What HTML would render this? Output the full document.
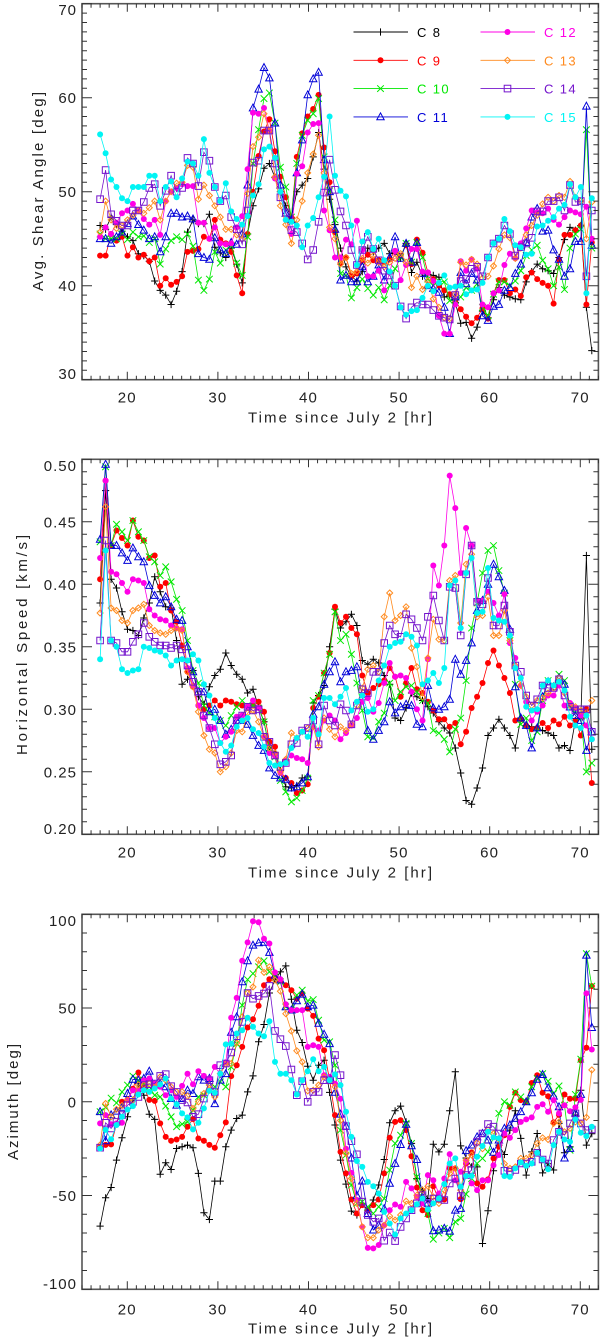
<!DOCTYPE html>
<html lang="en">
<head>
<meta charset="utf-8">
<title>Time series of shear angle, speed and azimuth</title>
<style>
html,body{margin:0;padding:0;background:#fff;width:600px;height:1340px;overflow:hidden}
svg{display:block}
text{font-family:"Liberation Sans",sans-serif;fill:#222}
</style>
</head>
<body>
<svg id="chart" xmlns="http://www.w3.org/2000/svg" width="600" height="1340" viewBox="0 0 600 1340"></svg>
<script>
const times=[17.00,17.60,18.21,18.81,19.41,20.02,20.62,21.22,21.82,22.43,23.03,23.63,24.24,24.84,25.44,26.05,26.65,27.25,27.85,28.46,29.06,29.66,30.27,30.87,31.47,32.08,32.68,33.28,33.88,34.49,35.09,35.69,36.30,36.90,37.50,38.11,38.71,39.31,39.91,40.52,41.12,41.72,42.33,42.93,43.53,44.14,44.74,45.34,45.94,46.55,47.15,47.75,48.36,48.96,49.56,50.17,50.77,51.37,51.97,52.58,53.18,53.78,54.39,54.99,55.59,56.20,56.80,57.40,58.00,58.61,59.21,59.81,60.42,61.02,61.62,62.23,62.83,63.43,64.03,64.64,65.24,65.84,66.45,67.05,67.65,68.26,68.86,69.46,70.06,70.67,71.27];

const shearC8=[46.4,46.0,47.3,46.5,45.8,45.2,44.8,43.4,43.2,42.6,
40.5,39.5,39.0,38.0,39.4,41.5,45.7,47.0,46.6,46.6,
47.6,44.1,43.5,43.0,44.0,42.3,40.3,45.5,48.5,50.3,
52.5,53.0,51.5,50.0,48.5,47.2,50.0,50.7,51.4,53.7,
56.3,52.4,49.2,46.5,44.0,42.0,41.0,40.5,41.5,44.0,
43.6,44.0,44.5,43.4,43.5,42.9,44.5,41.4,42.5,41.0,
41.2,41.1,40.9,38.8,39.0,38.2,36.0,36.1,34.4,35.6,
37.3,36.6,38.5,39.8,39.0,38.8,38.6,38.5,40.4,41.5,
42.3,41.8,41.6,41.3,43.0,44.9,46.2,45.9,46.4,37.7,
33.1];
const shearC9=[43.2,43.2,45.5,44.8,45.2,43.2,44.1,43.0,43.3,42.6,
43.0,40.0,40.8,40.1,40.4,41.0,43.6,43.7,43.9,45.2,
45.0,47.0,44.9,44.5,43.6,41.1,39.2,45.5,50.0,53.8,
56.4,57.7,54.3,51.6,49.4,47.3,53.7,56.2,58.0,58.8,
60.3,54.7,51.0,45.7,42.4,43.0,41.0,41.3,42.7,43.3,
42.7,42.7,42.5,42.8,43.7,43.2,44.3,42.3,44.9,43.5,
41.4,40.7,40.0,39.5,39.1,38.4,37.5,36.7,36.0,36.6,
37.6,36.5,39.2,40.6,40.6,39.2,39.6,38.9,40.9,41.4,
40.7,40.3,40.0,38.1,42.8,45.4,45.4,45.9,46.4,38.0,
44.6];
const shearC10=[45.5,45.0,45.0,45.0,45.5,44.9,45.7,45.2,45.3,44.6,
45.0,42.3,43.9,44.8,45.2,44.9,45.5,44.2,40.6,39.5,
40.7,43.6,42.4,43.8,44.3,42.4,41.1,45.2,53.0,56.6,
59.9,60.5,57.3,52.6,50.5,47.3,53.0,56.0,57.6,58.3,
59.9,53.7,50.1,47.0,41.3,41.1,38.7,39.8,40.7,39.7,
39.0,39.8,38.5,40.0,41.8,43.0,44.5,42.5,44.6,43.0,
40.7,40.0,40.5,40.4,38.4,38.4,38.8,39.8,39.5,40.2,
37.7,36.8,39.1,40.4,40.4,40.0,40.5,41.6,43.2,43.8,
44.3,42.7,41.8,40.0,42.0,39.6,44.0,45.5,46.0,56.6,
44.0];
const shearC11=[45.0,45.0,44.5,45.2,45.7,46.6,47.4,46.5,45.9,45.0,
45.2,43.6,45.2,47.7,47.7,47.3,47.4,47.1,43.4,43.0,
42.8,45.1,43.8,43.4,44.6,44.4,45.5,50.7,58.9,60.9,
63.2,62.1,57.3,50.7,47.7,47.0,52.0,55.5,60.3,62.0,
62.7,53.4,50.0,46.0,40.6,41.1,40.4,40.4,42.0,40.4,
41.0,42.2,40.6,43.0,45.2,42.9,44.5,42.5,44.6,41.3,
40.0,39.7,39.3,37.7,34.9,38.8,41.4,40.2,41.3,40.6,
36.8,36.3,37.8,38.0,39.5,39.8,41.3,42.3,44.6,47.3,
48.2,45.8,45.9,43.8,42.8,41.0,41.8,44.7,44.7,59.1,
44.3];
const shearC12=[45.2,46.2,45.5,46.7,47.7,48.0,48.7,48.0,47.1,46.5,
47.0,45.4,49.0,50.0,50.4,50.8,50.6,50.6,46.7,46.7,
45.0,46.2,44.5,44.4,44.5,46.2,47.4,52.4,58.4,58.3,
58.9,56.5,51.4,50.0,47.0,45.5,51.9,52.7,56.3,57.2,
57.3,48.0,45.9,43.0,43.0,44.9,44.4,46.9,43.8,41.0,
41.0,41.6,39.5,41.4,43.7,40.6,42.2,43.9,43.9,41.5,
41.4,40.5,36.8,34.9,34.9,38.0,42.6,41.6,42.8,41.8,
38.0,37.7,39.2,39.5,42.2,43.4,42.9,44.5,46.1,48.0,
47.8,47.7,48.2,47.0,46.5,47.3,48.0,47.8,47.6,48.4,
45.0];
const shearC13=[45.7,49.0,47.0,46.1,46.4,47.0,47.5,48.0,47.7,48.3,
49.0,47.0,49.0,50.0,50.9,51.0,52.8,52.6,49.2,50.7,
49.6,48.5,47.3,46.0,46.0,45.4,45.0,49.8,54.8,55.8,
58.3,56.5,51.6,48.5,46.5,44.5,47.0,49.0,52.0,54.0,
56.0,52.0,46.2,45.0,42.3,43.0,41.3,41.5,42.9,42.4,
43.2,42.5,42.0,42.5,42.9,43.4,42.5,39.8,41.0,39.6,
40.5,38.6,37.7,36.6,36.5,39.1,42.5,42.2,42.8,42.3,
40.8,41.0,42.1,43.9,45.4,45.1,42.9,44.0,45.4,46.4,
47.5,48.7,49.4,49.0,49.6,49.4,51.1,49.4,49.0,45.0,
48.9];
const shearC14=[49.2,52.3,47.6,46.9,46.4,46.4,48.0,48.0,48.9,50.4,
50.8,48.5,50.1,51.7,50.0,50.4,53.6,53.0,50.6,54.2,
53.3,50.5,49.0,49.6,47.3,46.0,44.4,48.0,53.1,53.3,
56.5,56.5,53.0,49.4,47.8,45.9,45.7,44.5,42.8,43.8,
46.8,49.9,53.4,50.2,47.9,46.4,43.8,42.2,43.8,45.2,
43.9,42.7,41.6,41.1,40.0,37.8,36.5,37.7,38.2,38.0,
38.0,37.4,36.8,36.6,36.4,39.0,40.5,40.7,41.8,42.0,
41.0,43.0,44.5,45.0,46.4,45.5,43.2,44.1,44.5,45.1,
47.9,47.9,49.0,49.0,49.4,48.0,50.7,48.9,49.0,41.0,
48.0];
const shearC15=[56.1,54.1,51.3,50.5,49.3,49.0,50.5,50.5,50.5,51.7,
51.7,49.0,50.5,51.1,49.4,51.4,53.2,53.0,51.7,55.6,
52.0,50.5,49.0,50.9,47.9,47.1,46.5,47.4,49.6,50.8,
54.5,54.8,53.6,50.0,47.0,46.8,46.4,44.1,46.4,47.2,
49.4,51.6,58.0,51.7,50.1,49.5,46.4,42.2,44.7,45.7,
43.9,45.0,42.7,41.5,40.0,37.7,36.9,37.3,37.4,38.7,
40.0,39.4,40.3,41.1,39.8,39.9,40.0,39.1,39.5,39.6,
40.3,43.0,44.5,45.0,47.1,45.8,44.3,44.1,43.3,43.4,
46.3,46.4,46.9,47.3,48.2,48.6,50.8,49.4,50.5,39.2,
49.3];

const speedC8=[.385,.475,.404,.397,.378,.364,.363,.359,.373,.385,
.406,.394,.382,.381,.355,.320,.324,.331,.310,.304,
.318,.327,.332,.345,.335,.328,.324,.313,.316,.302,
.290,.269,.265,.251,.238,.237,.239,.245,.246,.305,
.311,.319,.350,.380,.365,.370,.376,.367,.339,.336,
.340,.337,.327,.320,.293,.291,.301,.313,.310,.307,
.302,.297,.290,.285,.281,.269,.249,.227,.224,.237,
.253,.279,.285,.292,.285,.279,.269,.293,.287,.286,
.285,.283,.281,.279,.269,.271,.267,.291,.293,.423,
.268];
const speedC9=[.404,.483,.431,.443,.437,.431,.451,.438,.435,.421,
.423,.398,.401,.379,.370,.351,.330,.318,.303,.300,
.303,.307,.303,.307,.306,.304,.303,.302,.303,.306,
.298,.274,.270,.250,.245,.241,.233,.235,.240,.301,
.310,.329,.345,.382,.369,.374,.365,.360,.327,.313,
.317,.320,.323,.333,.326,.310,.321,.333,.316,.313,
.306,.299,.292,.292,.286,.289,.272,.282,.301,.310,
.321,.337,.347,.335,.325,.313,.291,.292,.287,.284,
.285,.289,.285,.291,.288,.294,.287,.291,.279,.300,
.241];
const speedC10=[.434,.494,.431,.448,.442,.435,.451,.442,.435,.422,
.418,.407,.414,.402,.388,.379,.355,.331,.321,.303,
.297,.294,.291,.287,.295,.302,.307,.301,.303,.301,
.290,.269,.262,.243,.234,.226,.229,.235,.245,.307,
.311,.329,.344,.378,.355,.360,.344,.321,.299,.278,
.277,.290,.297,.321,.307,.314,.318,.319,.314,.307,
.305,.283,.281,.276,.266,.284,.293,.323,.365,.385,
.409,.427,.431,.411,.393,.355,.320,.288,.293,.275,
.282,.307,.323,.319,.328,.323,.303,.297,.294,.250,
.257];
const speedC11=[.436,.496,.431,.431,.425,.419,.429,.422,.418,.399,
.391,.385,.390,.382,.372,.371,.350,.330,.314,.314,
.298,.300,.291,.280,.284,.291,.291,.288,.279,.271,
.267,.253,.247,.245,.244,.237,.238,.241,.246,.296,
.302,.320,.330,.338,.322,.330,.331,.334,.310,.283,
.276,.283,.290,.306,.297,.302,.304,.303,.288,.286,
.319,.301,.300,.302,.308,.340,.328,.339,.353,.379,
.387,.400,.416,.406,.395,.364,.318,.293,.287,.269,
.285,.310,.322,.318,.325,.320,.302,.295,.291,.267,
.282];
const speedC12=[.421,.483,.410,.408,.401,.394,.404,.403,.401,.380,
.375,.372,.371,.367,.365,.364,.333,.319,.303,.293,
.285,.285,.273,.278,.282,.294,.295,.302,.307,.301,
.278,.265,.263,.249,.259,.263,.261,.260,.257,.286,
.283,.291,.295,.291,.276,.281,.287,.293,.306,.309,
.298,.305,.321,.337,.326,.327,.325,.314,.300,.291,
.340,.415,.399,.431,.487,.461,.409,.445,.431,.387,
.387,.394,.385,.375,.392,.353,.341,.319,.306,.291,
.298,.303,.311,.311,.319,.303,.305,.301,.295,.287,
.276];
const speedC13=[.377,.462,.381,.379,.371,.369,.379,.381,.384,.367,
.363,.361,.360,.363,.365,.363,.330,.318,.298,.279,
.268,.265,.250,.254,.265,.283,.282,.297,.299,.290,
.278,.269,.265,.250,.260,.281,.277,.282,.285,.286,
.270,.293,.284,.278,.286,.283,.288,.303,.317,.332,
.335,.330,.374,.393,.371,.375,.382,.349,.334,.310,
.341,.372,.356,.355,.403,.407,.369,.416,.424,.374,
.375,.390,.359,.359,.379,.355,.335,.319,.310,.303,
.307,.309,.313,.317,.325,.313,.303,.302,.299,.297,
.307];
const speedC14=[.355,.435,.355,.353,.346,.346,.354,.360,.369,.358,
.354,.351,.351,.349,.351,.348,.335,.322,.314,.295,
.285,.272,.256,.258,.263,.291,.295,.302,.299,.300,
.278,.274,.263,.254,.257,.272,.273,.283,.285,.291,
.272,.303,.291,.287,.304,.299,.288,.303,.316,.313,
.330,.330,.353,.367,.360,.358,.376,.372,.365,.355,
.374,.391,.371,.355,.398,.397,.359,.408,.431,.386,
.384,.405,.367,.367,.383,.362,.335,.330,.311,.303,
.308,.319,.317,.317,.324,.311,.302,.299,.300,.300,
.282];
const speedC15=[.340,.427,.355,.350,.332,.329,.331,.332,.350,.349,
.347,.346,.343,.335,.339,.340,.339,.344,.339,.320,
.311,.293,.273,.266,.271,.286,.291,.293,.284,.281,
.270,.257,.255,.256,.257,.269,.277,.282,.278,.293,
.280,.309,.309,.304,.310,.317,.299,.306,.311,.298,
.300,.323,.335,.350,.353,.354,.360,.358,.351,.320,
.323,.329,.321,.333,.399,.403,.365,.409,.421,.377,
.378,.413,.373,.371,.370,.359,.333,.325,.302,.299,
.300,.319,.323,.319,.322,.315,.294,.287,.285,.295,
.276];

const azimuthC8=[-66.3,-51.2,-45.7,-31.1,-19.2,-8,.9,9.7,3.5,-6.6,
-9.4,-38.6,-32.5,-36.1,-24.9,-24,-23.1,-24.5,-38.2,-59.2,
-62.8,-42.3,-42.3,-24,-15.1,-8.9,-7.1,5.3,13.8,32,
41.2,58,65,69.3,72.5,54.7,38.2,31.6,19,11.5,
19.5,22.2,5,-12.4,-31.1,-43.9,-58.3,-60.4,-54.2,-57.8,
-52.4,-44.4,-30.8,-11.2,-4.8,-2.3,-10.7,-22.2,-40.9,-47.1,
-51.6,-22.6,-26.7,-22.6,-4.8,16,-23.5,-30,-34.7,-34.7,
-75.6,-58.1,-36.8,-23.1,-28.1,-15.1,-4.8,-19.5,-39.1,-26.7,
-16.9,-37.9,-33,-36.4,-11.5,-27.2,-24,-7,6.2,-23.1,
-17];
const azimuthC9=[-24,-23,-22.7,-12,0,1,7,15.6,8,1,
.5,-11.5,-18.7,-20.8,-20.1,-18.7,-13.3,-9.2,-19.6,-20.8,
-23,-24.5,-17.8,-11,13.7,19.5,29.3,39.6,44,51.2,
62.2,65.4,67.5,64.9,62.2,59.5,55,57.8,49.7,45.8,
33.7,27.5,11.5,-7.1,-26.7,-38.2,-52.1,-59.6,-55.1,-57.8,
-55.1,-52.1,-38.2,-19.2,-10.7,-9.8,-15.1,-29,-45.7,-57.8,
-60.4,-45,-52.4,-52.1,-35.5,-35.5,-51.9,-32.9,-27,-43.5,
-45.3,-41.4,-30.2,-24,-17.8,-2.7,4.8,.9,0,10,
14.2,4.8,3,-11,-7,3.9,1.6,1.7,22.2,28.8,
61.7];
const azimuthC10=[-5.3,-3,2,-.6,5.3,8.9,13.7,11.5,9.7,8,
3.5,2.6,-2.3,-8,-13.3,-11.9,-10.7,-4.4,2.6,3.5,
10.6,8,10.6,8,18.6,31,51.5,65.2,68.4,72,
75.2,69.3,66.6,64,50.6,48.9,56.9,59.5,53.8,54.5,
43.5,32.9,32,19.5,-15.1,-28.4,-44.4,-54.2,-53.3,-56,
-59.6,-56,-51.6,-36.4,-22.2,-17.8,-11.5,-22.2,-40,-50.7,
-59.6,-73.3,-70,-67.5,-72.5,-64,-62.2,-49.2,-40.9,-32.9,
-30.2,-26.7,-18.7,-6.2,0,-1.8,5.3,2.6,0,8,
12.4,15,11,4.4,8.5,-1.8,-25.8,3.9,22.7,79,
61.7];
const azimuthC11=[-5.3,-20.8,-7,-5,-3,4.4,12,11.5,12.4,16.3,
8.9,9.7,8,1.7,-1.8,1.7,6.2,4.4,13.3,11.5,
12.4,-1,11.5,15,37,45.3,64,75.2,83.5,84.8,
85,79.6,67.5,64.9,50.6,48.9,53.8,57.4,50.6,51.5,
41.8,36,31,5,-6.6,-13,-30,-50,-42.3,-59.6,
-68.4,-65.8,-57,-43.5,-32.9,-22.8,-12,-23.5,-30.8,-50.7,
-54.2,-68.8,-68.4,-67.5,-69,-57.8,-56.9,-26.1,-23.1,-18.7,
-16.9,-20.4,-27,-20.4,-14.2,-12.4,-8.9,-5.3,0,4.8,
12,14.5,7.4,3,-2.7,-30,-24.9,-6,3.9,78.2,
39.6];
const azimuthC12=[-11.5,-7.1,-12,-11.5,-11.2,.8,6.2,6.2,11.5,12.4,
9.7,8,3.5,6.2,2.6,8.5,15,9.4,16.3,13.8,
12.4,18.6,15,21,44.8,55.4,75.2,85,96.3,95.8,
87,84.4,69,65.4,52,48.9,48.9,48.9,29.3,30.2,
29.3,14.2,13.3,9.7,1.6,-25,-37.9,-52.4,-66.7,-77.9,
-78.2,-76.4,-65.8,-57.8,-54.8,-56,-42.7,-46.2,-50.7,-54.2,
-39.1,-41.8,-48.9,-40.9,-27.9,-41.8,-37.3,-32,-43.5,-47.1,
-41.8,-41.8,-33.8,-28.4,-16.9,-19.2,-15.1,-10.7,-9.4,-8.3,
-2.7,-1.3,-5.3,.9,-6.2,-1.8,-5,-3,1,57.8,
27.9];
const azimuthC13=[-23,-.9,-8,-4,-2,1,.9,9,9,9.7,
8,13.3,11.5,8,5.3,5.3,3,-3.6,0,4.4,
8.9,2.6,15,20,20.4,31.4,45.3,58,61.3,75.5,
69,72,64.9,59,47,37.7,27.2,21.3,5.8,6.2,
8.9,13.3,11.5,8,-10,-27.5,-40.9,-54.2,-66.7,-72.5,
-72.5,-68.4,-65.8,-61,-63.1,-60.4,-53,-54.2,-49.8,-47.1,
-45,-50.7,-54.2,-47.1,-38.2,-35.5,-47.1,-31.1,-28.4,-22,
-25,-15,-17,-20,-33,-35.5,-34.7,-30.2,-30.2,-28.4,
-22.2,-19.2,-20.1,-11.5,-10.7,-16,-14.2,-10.7,-11.5,-8.3,
17];
const azimuthC14=[-24.5,-11.2,-14.2,-10.7,-7.1,-1.8,0,2.6,8.9,9.4,
9.7,13.8,14.7,8.3,5.3,.9,-.4,-8,-6.6,1.7,
11.5,5.3,19.5,20.4,26.3,35,42.6,58,55,56.5,
57.7,61.8,37.8,33.4,29.7,17.2,3.5,11,0,5.3,
5.3,11.5,11.5,24.9,14.2,-13,-21,-28,-53.3,-60.4,
-64,-62.2,-74.1,-69.7,-74.3,-66.7,-62.2,-57.8,-54.2,-49.8,
-54.2,-51.6,-51.6,-52.4,-43.5,-40.9,-50.3,-39.1,-36.4,-21.3,
-16.9,-11.9,-13.3,-16.9,-36.8,-37.3,-36.4,-32.9,-32.9,-32,
-27.2,-30.8,-32.9,-20.4,-16,-17.8,-11.5,-6.2,-11.5,-15.1,
-14.8];
const azimuthC15=[-24.9,-15,-20,-12.4,-8,-4.1,-2.3,3.9,6.2,5.3,
7.1,9.2,12.4,1.7,-1.3,-6.2,-8.3,-14.7,-11.2,-3.5,
5.8,4.8,15,30.6,31,36.4,38.2,44.8,40,36.4,
35,43,21.3,15,15,11.5,3.9,11.5,16.3,22.7,
16.3,18.6,11.5,14.6,8.9,-5.3,-18.7,-31.6,-34.7,-42.7,
-45,-48.9,-58.7,-64.9,-70.8,-62.2,-59.6,-57.8,-54.6,-51.6,
-57.4,-54.2,-51.6,-43.9,-32.9,-30.2,-45.3,-39.6,-39.6,-29.3,
-23.6,-16,-19,-19.5,-39.6,-40,-35.5,-32.3,-34.1,-32.9,
-27.2,-30.8,-36,-23.1,-16,-20.1,-21.3,-9.4,-16.5,-18.3,
-13.3];

const seriesNames=['C 8','C 9','C 10','C 11','C 12','C 13','C 14','C 15'];
const seriesColors=['#000000','#ff0000','#00e800','#0000d8','#ff00e6','#ff8a1e','#7414cc','#00f4f4'];
const seriesSymbols=['plus','circle','cross','triangle','circle','diamond','square','circle'];
const xTicks=[20,30,40,50,60,70];
const shearTicks=[30,40,50,60,70];
const speedTicks=[0.20,0.25,0.30,0.35,0.40,0.45,0.50];
const azimuthTicks=[-100,-50,0,50,100];
const shearSeries=[shearC8,shearC9,shearC10,shearC11,shearC12,shearC13,shearC14,shearC15];
const speedSeries=[speedC8,speedC9,speedC10,speedC11,speedC12,speedC13,speedC14,speedC15];
const azimuthSeries=[azimuthC8,azimuthC9,azimuthC10,azimuthC11,azimuthC12,azimuthC13,azimuthC14,azimuthC15];

const svg=document.getElementById('chart');
const NS='http://www.w3.org/2000/svg';
const LEFT=82,RIGHT=598.4,XMIN=15,XMAX=72;
const FRAME='#555';

function make(tag,attrs,parent){
  const e=document.createElementNS(NS,tag);
  for(const k in attrs){e.setAttribute(k,attrs[k]);}
  parent.appendChild(e);
  return e;
}
function xPos(t){return LEFT+(t-XMIN)*(RIGHT-LEFT)/(XMAX-XMIN);}
function yScale(p){return function(v){return p.bottom-(v-p.min)*(p.bottom-p.top)/(p.max-p.min);};}

function symbolPath(kind,x,y){
  const f=function(n){return n.toFixed(1);};
  if(kind==='plus'){return 'M'+f(x-3.6)+' '+f(y)+'H'+f(x+3.6)+'M'+f(x)+' '+f(y-3.6)+'V'+f(y+3.6);}
  if(kind==='cross'){return 'M'+f(x-3.3)+' '+f(y-3.3)+'L'+f(x+3.3)+' '+f(y+3.3)+'M'+f(x-3.3)+' '+f(y+3.3)+'L'+f(x+3.3)+' '+f(y-3.3);}
  if(kind==='triangle'){return 'M'+f(x)+' '+f(y-4)+'L'+f(x+3.7)+' '+f(y+2.9)+'L'+f(x-3.7)+' '+f(y+2.9)+'Z';}
  if(kind==='diamond'){return 'M'+f(x)+' '+f(y-3)+'L'+f(x+3)+' '+f(y)+'L'+f(x)+' '+f(y+3)+'L'+f(x-3)+' '+f(y)+'Z';}
  return 'M'+f(x-3.3)+' '+f(y-3.3)+'H'+f(x+3.3)+'V'+f(y+3.3)+'H'+f(x-3.3)+'Z';
}
function drawSymbol(parent,kind,color,x,y){
  let m;
  if(kind==='circle'){
    m=make('circle',{cx:x.toFixed(1),cy:y.toFixed(1),r:3,fill:color},parent);
  }else{
    m=make('path',{d:symbolPath(kind,x,y),fill:'none',stroke:color,'stroke-width':1},parent);
  }
  return m;
}

function drawPanel(p){
  const g=make('g',{},svg);
  
  
  const y=yScale(p);

  const plot=make('g',{},g);
  
  
  p.series.forEach(function(vals,s){
    const sg=make('g',{},plot);
    
    
    const pts=vals.map(function(v,i){return xPos(times[i]).toFixed(1)+','+y(v).toFixed(1);}).join(' ');
    const line=make('polyline',{points:pts,fill:'none',stroke:seriesColors[s],'stroke-width':0.8},sg);
    
    
    vals.forEach(function(v,i){
      const m=drawSymbol(sg,seriesSymbols[s],seriesColors[s],xPos(times[i]),y(v));
      
      
    });
  });

  const frame=make('rect',{x:LEFT,y:p.top,width:RIGHT-LEFT,height:p.bottom-p.top,fill:'none',stroke:FRAME,'stroke-width':1.6},g);
  
  

  const xa=make('g',{},g);
  
  
  for(let t=XMIN;t<=XMAX;t+=1){
    const major=t%10===0;
    const len=major?8:4;
    const X=xPos(t);
    const tick=make('path',{d:'M'+X+' '+p.bottom+'v'+(-len)+'M'+X+' '+p.top+'v'+len,stroke:'#333','stroke-width':1,fill:'none'},xa);
    
    
  }
  xTicks.forEach(function(t){
    const lab=make('text',{x:xPos(t),y:p.bottom+p.tickDrop,'text-anchor':'middle','font-size':15,'letter-spacing':'1.2'},xa);
    lab.textContent=String(t);
    
    
  });
  const xt=make('text',{x:248,y:p.bottom+p.titleDrop,'font-size':15,textLength:184,lengthAdjust:'spacing'},g);
  xt.textContent='Time since July 2 [hr]';
  
  

  const ya=make('g',{},g);
  
  
  const steps=Math.round((p.max-p.min)/p.minorStep);
  for(let k=0;k<=steps;k++){
    const v=p.min+k*p.minorStep;
    const major=k%p.minorPerMajor===0;
    const len=major?10:5;
    const Y=y(v);
    const tick=make('path',{d:'M'+LEFT+' '+Y+'h'+len+'M'+RIGHT+' '+Y+'h'+(-len),stroke:'#333','stroke-width':1,fill:'none'},ya);
    
    
  }
  p.ticks.forEach(function(v){
    const clamped=Math.min(Math.max(y(v),p.top+6),p.bottom-6);
    const lab=make('text',{x:77,y:clamped+5.5,'text-anchor':'end','font-size':15,'letter-spacing':'1'},ya);
    lab.textContent=p.fmt(v);
    
    
  });
  const yt=make('text',{transform:'translate('+p.titleX+','+p.titleBottom+') rotate(-90)',x:0,y:0,'font-size':15,textLength:p.titleLen,lengthAdjust:'spacing'},g);
  yt.textContent=p.title;
  
  
}

drawPanel({key:'shear',top:3.7,bottom:379.7,min:30,max:70,minorStep:1,minorPerMajor:10,ticks:shearTicks,fmt:function(v){return String(v);},series:shearSeries,title:'Avg. Shear Angle [deg]',titleX:43,titleBottom:291,titleLen:199,tickDrop:23,titleDrop:43});
drawPanel({key:'speed',top:459.3,bottom:834.3,min:0.2,max:0.5,minorStep:0.01,minorPerMajor:5,ticks:speedTicks,fmt:function(v){return v.toFixed(2);},series:speedSeries,title:'Horizontal Speed [km/s]',titleX:27,titleBottom:755,titleLen:220,tickDrop:23,titleDrop:43});
drawPanel({key:'azimuth',top:914.3,bottom:1289.3,min:-100,max:100,minorStep:10,minorPerMajor:5,ticks:azimuthTicks,fmt:function(v){return String(v);},series:azimuthSeries,title:'Azimuth [deg]',titleX:18,titleBottom:1160,titleLen:116,tickDrop:25,titleDrop:44});

const legend=make('g',{},svg);


seriesNames.forEach(function(name,s){
  const col=s<4?0:1;
  const row=s%4;
  const x0=col===0?353.5:480.5;
  const ly=32+row*28.3;
  const entry=make('g',{},legend);
  
  
  const ln=make('line',{x1:x0,x2:x0+54.5,y1:ly,y2:ly,stroke:seriesColors[s],'stroke-width':0.9},entry);
  
  
  const sym=drawSymbol(entry,seriesSymbols[s],seriesColors[s],x0+27,ly);
  
  
  const tx=make('text',{x:x0+63.5,y:ly+5,'font-size':13,'letter-spacing':'1.4'},entry);
  tx.style.fill=seriesColors[s];
  tx.textContent=name;
  
  
});
</script>
</body>
</html>
